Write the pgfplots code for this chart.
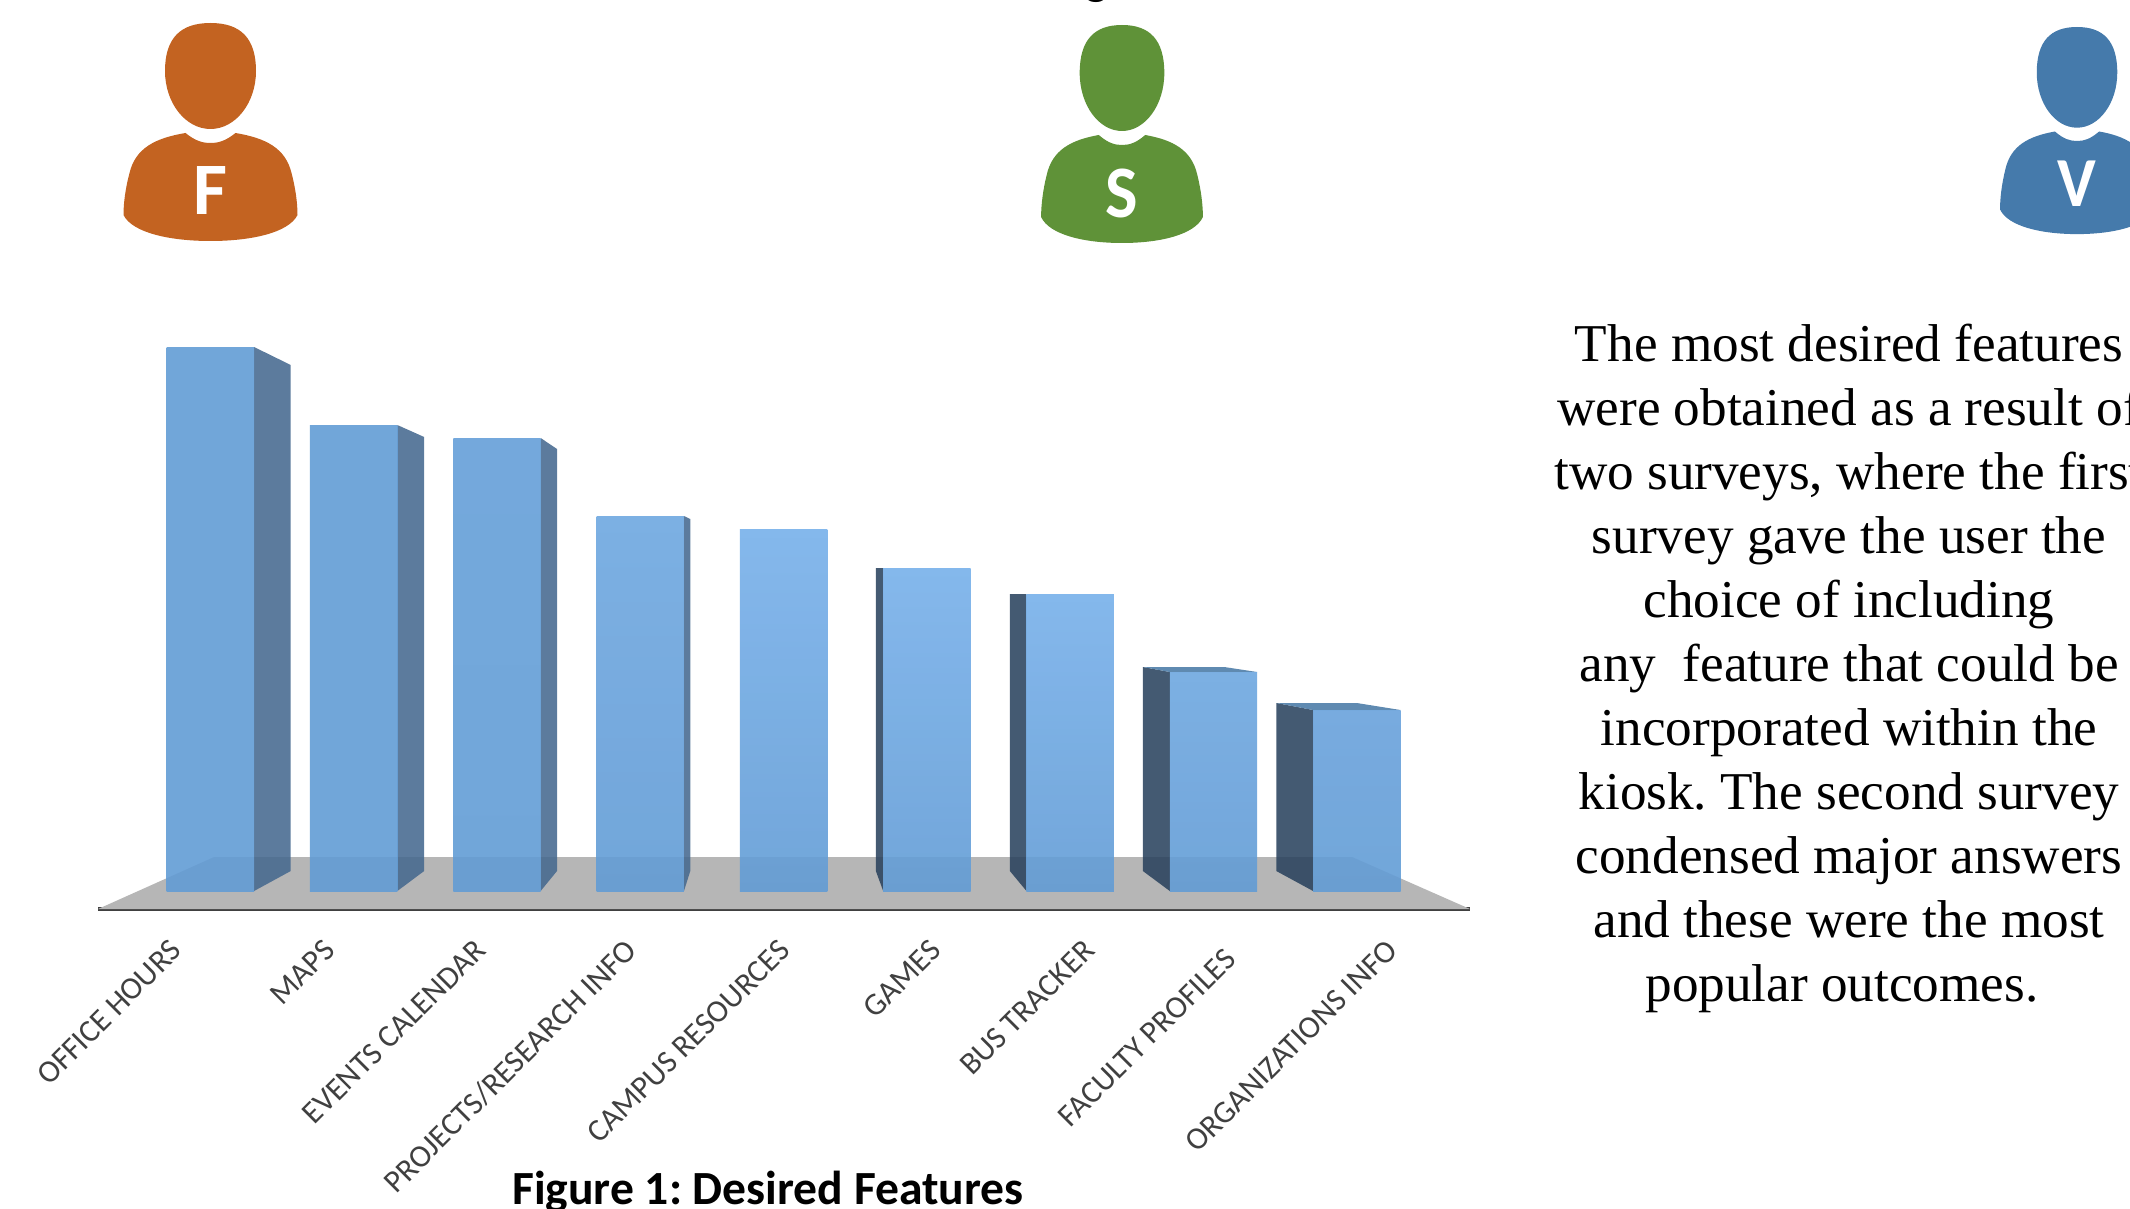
\documentclass[border=0pt]{standalone}
\usepackage{fontspec}
\setmainfont{Carlito}
\newfontfamily\tnr{Liberation Serif}
\usepackage{pgfplots}
\pgfplotsset{compat=1.18}
\definecolor{floorc}{HTML}{B6B6B6}
\definecolor{sider}{HTML}{46698F}
\definecolor{sidel}{HTML}{2A435E}
\definecolor{topc}{HTML}{4E7DA8}
\definecolor{labc}{HTML}{404040}
\definecolor{cF}{HTML}{C36321}
\definecolor{cS}{HTML}{5F9238}
\definecolor{cV}{HTML}{457AAB}
\definecolor{ca}{HTML}{629CD5}
\definecolor{cb}{HTML}{659FD8}
\definecolor{cc}{HTML}{6EA7E0}
\definecolor{cd}{HTML}{77B0EA}
\definecolor{ce}{HTML}{69A2DB}
\newcommand{\person}[7]{% cx, top, xscale, yscale, colour, letter, letter-dy
\begin{scope}[shift={(#1,#2)},xscale=#3,yscale=#4,transform shape]
\fill[#5] (0,0) .. controls (30,0) and (45.5,15) .. (45.5,48) .. controls (45.5,80) and (25,106) .. (0,106) .. controls (-25,106) and (-45.5,80) .. (-45.5,48) .. controls (-45.5,15) and (-30,0) .. (0,0) -- cycle;
\fill[#5] (-25,110) .. controls (-15,118) and (-8,120) .. (0,120) .. controls (8,120) and (15,118) .. (25,110) .. controls (55,115) and (75,125) .. (81,150) .. controls (85,165) and (87,180) .. (87,192) .. controls (78,210) and (40,218) .. (0,218) .. controls (-40,218) and (-78,210) .. (-87,192) .. controls (-87,180) and (-85,165) .. (-81,150) .. controls (-75,125) and (-55,115) .. (-25,110) -- cycle;
\node[text=white,inner sep=0pt,font=\fontsize{37}{37}\selectfont\bfseries] at (0,#7) {#6};
\end{scope}}
\pgfplotsset{
  fb/.style n args={2}{ybar,bar width=0.61,bar shift=0pt,draw=none,fill opacity=0.9,top color=#1,bottom color=#2},
  sr/.style={fill=sider,draw=none,fill opacity=0.88},
  sl/.style={fill=sidel,draw=none,fill opacity=0.88},
  tp/.style={fill=topc,draw=none,fill opacity=0.9}}
\begin{document}
\frenchspacing
\begin{tikzpicture}
\clip (0pt,0pt) rectangle (1065pt,-604.5pt);
\path[use as bounding box] (0pt,0pt) rectangle (1065pt,-604.5pt);
\begin{scope}[x=0.5pt,y=-0.5pt]
\person{210.5}{23}{1}{1}{cF}{F}{168}
\person{1122}{25}{0.93}{1}{cS}{S}{168}
\person{2077}{27}{0.885}{0.95}{cV}{V}{165}
\node[font=\fontsize{23.8}{24}\selectfont\bfseries,anchor=base] at (1097,-5) {g};
\node[font=\fontsize{23.8}{24}\selectfont\bfseries,anchor=center] at (768,1192) {Figure 1: Desired Features};
\node[font=\tnr\fontsize{26.6}{32}\selectfont,align=center,anchor=north,inner sep=0pt] at (1849,324) {The most desired features\\ were obtained as a result of\\ two surveys, where the first\\ survey gave the user the\\ choice of including\\ any\ \ feature that could be\\ incorporated within the\\ kiosk. The second survey\\ condensed major answers\\ and these were the most\\ popular outcomes.\hspace*{7pt}};
\end{scope}
\begin{axis}[
  at={(49pt,-454.5pt)},anchor=south west,
  scale only axis,width=686pt,height=281pt,
  xmin=-0.784,xmax=8.79,ymin=-18,ymax=544,
  clip=false,
  axis y line=none,axis x line=bottom,
  x axis line style={-,color=labc,line width=2pt},
  xtick={-0.264,0.807,1.860,2.913,3.983,5.034,6.107,7.152,8.219},
  xticklabels={OFFICE HOURS,MAPS,EVENTS CALENDAR,PROJECTS/RESEARCH INFO,CAMPUS RESOURCES,GAMES,BUS TRACKER,FACULTY PROFILES\hspace*{6pt},ORGANIZATIONS INFO},
  major tick length=0pt,
  xticklabel style={xshift=1.9pt,yshift=-18.1pt,rotate=45,anchor=east,text=labc,font=\fontsize{15.8}{16}\selectfont,inner sep=0pt},
]
% floor
\addplot[fill=floorc,draw=none] coordinates {(-0.784,-18)(8.79,-18)(7.967,34)(0.026,34)} -- cycle;
% side faces
\addplot[sr] coordinates {(0.305,0)(0.561,20)(0.561,526)(0.305,544)} -- cycle;
\addplot[sr] coordinates {(1.305,0)(1.492,20)(1.492,454)(1.305,466)} -- cycle;
\addplot[sr] coordinates {(2.305,0)(2.419,20)(2.419,442)(2.305,453)} -- cycle;
\addplot[sr] coordinates {(3.305,0)(3.349,20)(3.349,372)(3.305,375)} -- cycle;
\addplot[sl] coordinates {(4.695,0)(4.644,20)(4.644,323)(4.695,323)} -- cycle;
\addplot[sl] coordinates {(5.695,0)(5.579,20)(5.579,297)(5.695,297)} -- cycle;
\addplot[sl] coordinates {(6.695,0)(6.507,20)(6.507,224)(6.695,219)} -- cycle;
\addplot[sl] coordinates {(7.695,0)(7.438,20)(7.438,188)(7.695,181)} -- cycle;
% top faces
\addplot[tp] coordinates {(6.507,224)(6.695,219)(7.305,219)(7.075,224)} -- cycle;
\addplot[tp] coordinates {(7.438,188)(7.695,181)(8.305,181)(8.0,188)} -- cycle;
% front faces
\addplot[fb={ca}{ca}] coordinates {(0,544)};
\addplot[fb={ca}{ca}] coordinates {(1,466)};
\addplot[fb={cb}{ca}] coordinates {(2,453)};
\addplot[fb={cc}{ca}] coordinates {(3,375)};
\addplot[fb={cd}{ca}] coordinates {(4,362)};
\addplot[fb={cd}{ca}] coordinates {(5,323)};
\addplot[fb={cd}{ca}] coordinates {(6,297)};
\addplot[fb={cc}{ca}] coordinates {(7,219)};
\addplot[fb={ce}{ca}] coordinates {(8,181)};
\end{axis}
\end{tikzpicture}
\end{document}
